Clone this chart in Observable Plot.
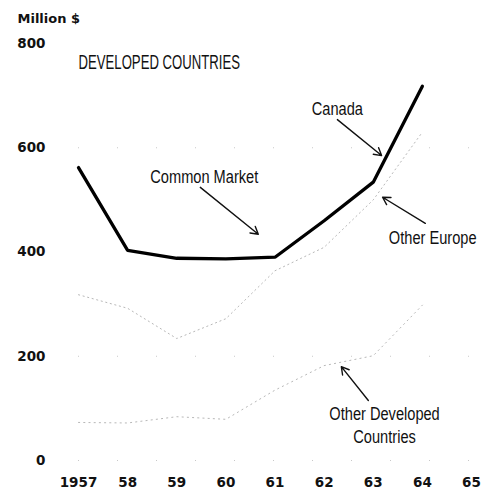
<!DOCTYPE html>
<html>
<head>
<meta charset="utf-8">
<script src="https://cdn.jsdelivr.net/npm/d3@7"></script>
<script src="https://cdn.jsdelivr.net/npm/@observablehq/plot@0.6"></script>
<style>
  html, body { margin: 0; padding: 0; background: #fff; }
</style>
</head>
<body>
<div id="chart"></div>
<script>
// ---- data ----
const years = [1957, 1958, 1959, 1960, 1961, 1962, 1963, 1964];
const canada = [562, 403, 388, 387, 390, 460, 534, 718];
const otherEurope = [318, 292, 234, 272, 364, 409, 500, 630];
const otherDeveloped = [73, 72, 84, 79, 135, 182, 201, 298];
const xTicks = [1957, 1958, 1959, 1960, 1961, 1962, 1963, 1964, 1965];
const yTicks = [0, 200, 400, 600, 800];
const faintGrid = [0, 200, 600];

// annotations (data coordinates)
const annLabels = ["Canada", "Common Market", "Other Europe", "Other Developed\nCountries"];
const annX = [1962.27, 1959.56, 1964.21, 1963.23];
const annY = [677, 547, 430, 69];
const arrX1 = [1962.27, 1959.48, 1964.06, 1962.9];
const arrY1 = [654, 524, 455, 115];
const arrX2 = [1963.17, 1960.66, 1963.19, 1962.35];
const arrY2 = [585, 434, 505, 180];

const title = "DEVELOPED COUNTRIES";
const unitLabel = "Million $";

// ---- tables ----
const series = (vals, name) => years.map((y, i) => ({year: y, value: vals[i], name}));
const canadaData = series(canada, "Canada");
const europeData = series(otherEurope, "Other Europe");
const odcData = series(otherDeveloped, "Other Developed Countries");
const annData = annLabels.map((t, i) => ({text: t, x: annX[i], y: annY[i]}));
const arrData = arrX1.map((_, i) => ({x1: arrX1[i], y1: arrY1[i], x2: arrX2[i], y2: arrY2[i]}));

const narrowBase = "'Liberation Sans', Arial, sans-serif";

const chart = Plot.plot({
  width: 492,
  height: 490,
  marginLeft: 78,
  marginRight: 21,
  marginTop: 43,
  marginBottom: 30,
  style: {fontFamily: "'DejaVu Sans', sans-serif", fontSize: "13.5px", fontWeight: "bold", color: "#111", background: "#fff"},
  x: {domain: [1957, 1965]},
  y: {domain: [0, 800]},
  marks: [
    Plot.ruleY(faintGrid, {stroke: "#c8c8c8", strokeDasharray: "1 38", strokeWidth: 1}),
    Plot.axisX({ticks: xTicks, tickSize: 0, tickPadding: 17, label: null,
      tickFormat: d => d === 1957 ? "1957" : String(d).slice(2)}),
    Plot.axisY({ticks: yTicks, tickSize: 0, tickPadding: 33, label: null}),
    Plot.text([unitLabel], {frameAnchor: "top-left", dx: -61, dy: -30, textAnchor: "start",
      fontSize: 13, fontWeight: "bold", fontFamily: "'DejaVu Sans', sans-serif"}),
    Plot.text([title], {x: () => 1957, y: () => 764, textAnchor: "start",
      fontFamily: narrowBase, fontSize: 19.5, fontWeight: "normal", fill: "#111"}),
    Plot.line(europeData, {x: "year", y: "value", stroke: "#b8b8b8", strokeWidth: 1, strokeDasharray: "1.2 3.5"}),
    Plot.line(odcData, {x: "year", y: "value", stroke: "#b8b8b8", strokeWidth: 1, strokeDasharray: "1.2 4"}),
    Plot.line(canadaData, {x: "year", y: "value", stroke: "#000", strokeWidth: 3.3, strokeLinejoin: "miter"}),
    Plot.arrow(arrData, {x1: "x1", y1: "y1", x2: "x2", y2: "y2", stroke: "#111", strokeWidth: 1.4, headLength: 9, insetEnd: 0}),
    Plot.text(annData, {x: "x", y: "y", text: "text", fontFamily: narrowBase, fontSize: 18.5,
      fontWeight: "normal", fill: "#111", lineHeight: 1.25})
  ]
});
document.getElementById("chart").appendChild(chart);

// horizontally condense the label text (narrow typeface look)
function condenseNode(node, k) {
  const t = d3.select(node);
  const tr = t.attr("transform") || "";
  if (t.attr("x") != null || t.attr("y") != null) {
    const x = +t.attr("x") || 0, y = +t.attr("y") || 0;
    t.attr("transform", `${tr} translate(${x},${y}) scale(${k},1) translate(${-x},${-y})`);
  } else {
    t.attr("transform", `${tr} scale(${k},1)`);
  }
}
const annFlat = annLabels.map(s => s.replace(/\n/g, ""));
d3.select(chart).selectAll("text").each(function() {
  const s = this.textContent;
  if (s === title) condenseNode(this, 0.675);
  else if (annFlat.includes(s)) condenseNode(this, 0.79);
});
</script>
</body>
</html>
